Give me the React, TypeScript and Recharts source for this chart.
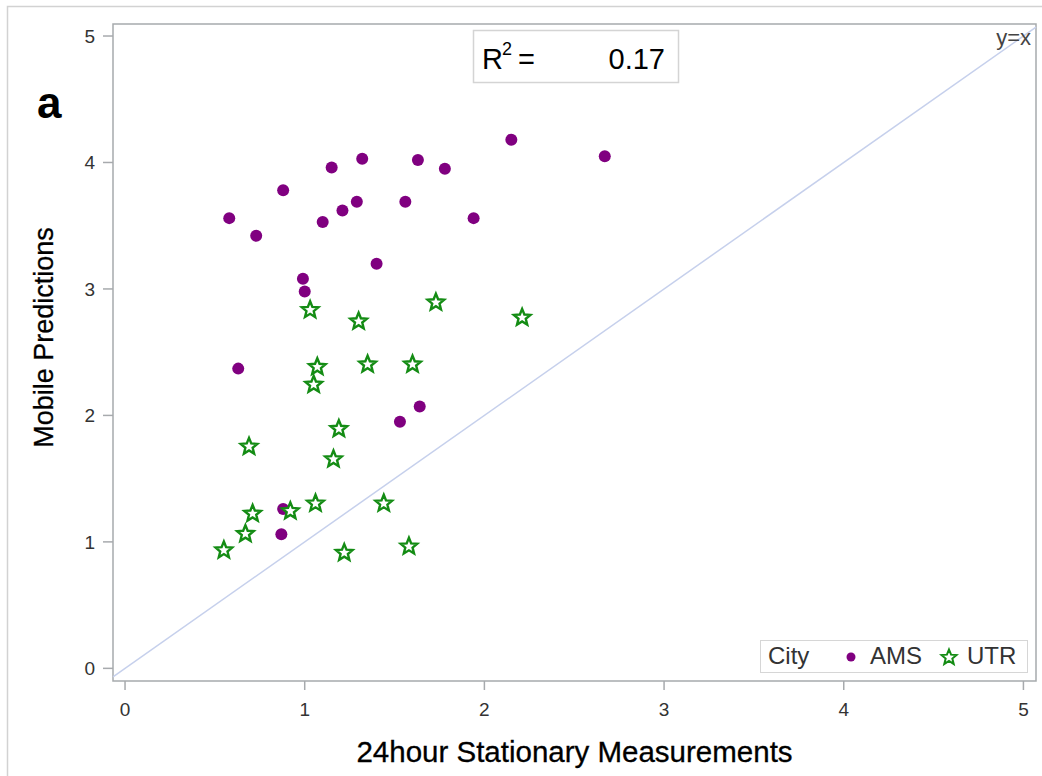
import React from 'react';
import {
  ScatterChart,
  Scatter,
  XAxis,
  YAxis,
  ReferenceLine,
  ReferenceArea,
  Legend,
} from 'recharts';

// AMS sites: stationary 24h value vs mobile prediction
const amsX = [0.58, 0.73, 0.88, 1.15, 1.32, 1.1, 1.21, 1.29, 0.99, 1.0, 1.4, 1.56, 1.63, 1.78, 1.94, 2.15, 2.67, 0.63, 1.53, 1.64, 0.88, 0.87];
const amsY = [3.56, 3.42, 3.78, 3.96, 4.03, 3.53, 3.62, 3.69, 3.08, 2.98, 3.2, 3.69, 4.02, 3.95, 3.56, 4.18, 4.05, 2.37, 1.95, 2.07, 1.26, 1.06];

// UTR sites
const utrX = [1.03, 1.3, 1.73, 2.21, 1.07, 1.35, 1.6, 1.05, 1.19, 0.69, 1.16, 0.71, 0.92, 1.06, 1.44, 0.67, 0.55, 1.22, 1.58];
const utrY = [2.84, 2.75, 2.9, 2.78, 2.39, 2.41, 2.41, 2.25, 1.9, 1.76, 1.66, 1.23, 1.25, 1.31, 1.31, 1.07, 0.94, 0.92, 0.97];

const cities = ['AMS', 'UTR'];
const xTicks = [0, 1, 2, 3, 4, 5];
const yTicks = [0, 1, 2, 3, 4, 5];
const rSquared = '0.17';

const toPoints = (xs: number[], ys: number[]) => xs.map((x, i) => ({ x, y: ys[i] }));
const amsData = toPoints(amsX, amsY);
const utrData = toPoints(utrX, utrY);

const X_DOMAIN: [number, number] = [-0.067, 5.07];
const Y_DOMAIN: [number, number] = [-0.1, 5.095];

const PURPLE = '#800080';
const GREEN = '#148c14';
const FRAME = '#a7aaad';
const FONT = "'Liberation Sans', Arial, sans-serif";

const starPath = (cx: number, cy: number, r: number, inner = 0.44) => {
  const pts: string[] = [];
  for (let i = 0; i < 10; i++) {
    const rad = i % 2 === 0 ? r : r * inner;
    const a = -Math.PI / 2 + (i * Math.PI) / 5;
    pts.push(`${(cx + rad * Math.cos(a)).toFixed(2)},${(cy + rad * Math.sin(a)).toFixed(2)}`);
  }
  return `M${pts.join('L')}Z`;
};

const DotShape = (props: any) => <circle cx={props.cx} cy={props.cy} r={6} fill={PURPLE} />;

const StarShape = (props: any) => (
  <path d={starPath(props.cx, props.cy + 0.8, 8.7)} fill='#fff' stroke={GREEN} strokeWidth={2.4} />
);

const CityLegend = () => (
  <div
    style={{
      position: 'relative',
      width: 268,
      height: 33,
      boxSizing: 'border-box',
      border: '1.5px solid #d6d6d6',
      background: '#fff',
      fontFamily: FONT,
      fontSize: 24,
      color: '#333',
    }}
  >
    <span style={{ position: 'absolute', left: 7, top: 1 }}>City</span>
    <svg width={12} height={12} style={{ position: 'absolute', left: 84, top: 10 }}>
      <circle cx={6} cy={6} r={4.5} fill={PURPLE} />
    </svg>
    <span style={{ position: 'absolute', left: 109, top: 1 }}>{cities[0]}</span>
    <svg width={20} height={20} style={{ position: 'absolute', left: 178, top: 6 }}>
      <path d={starPath(10, 10.5, 8)} fill='#fff' stroke={GREEN} strokeWidth={2} />
    </svg>
    <span style={{ position: 'absolute', left: 206, top: 1 }}>{cities[1]}</span>
  </div>
);

const tickStyle = { fontSize: 19, fill: '#333', fontFamily: FONT };

export default function App() {
  return (
    <div style={{ position: 'absolute', left: 0, top: 0, width: 1042, height: 776, background: '#fff' }}>
      <ScatterChart width={1042} height={776} margin={{ top: 24, right: 6, bottom: 0, left: 0 }}>
        <XAxis
          type='number'
          dataKey='x'
          domain={X_DOMAIN}
          ticks={xTicks}
          allowDataOverflow
          height={95}
          axisLine={false}
          tickLine={{ stroke: FRAME, strokeWidth: 1.5 }}
          tickSize={9}
          tickMargin={13}
          tick={tickStyle}
          label={{
            content: () => (
              <text
                x={574.5}
                y={762}
                textAnchor='middle'
                fontSize={29.5}
                fontFamily={FONT}
                fill='#000'
                stroke='#000'
                strokeWidth={0.3}
              >
                24hour Stationary Measurements
              </text>
            ),
          }}
        />
        <YAxis
          type='number'
          dataKey='y'
          domain={Y_DOMAIN}
          ticks={yTicks}
          allowDataOverflow
          width={113}
          axisLine={false}
          tickLine={{ stroke: FRAME, strokeWidth: 1.5 }}
          tickSize={10}
          tickMargin={8}
          tick={tickStyle}
          label={{
            content: () => (
              <text
                x={53}
                y={337.5}
                transform='rotate(-90 53 337.5)'
                textAnchor='middle'
                fontSize={27}
                fontFamily={FONT}
                fill='#000'
                stroke='#000'
                strokeWidth={0.3}
              >
                Mobile Predictions
              </text>
            ),
          }}
        />
        <ReferenceArea
          x1={X_DOMAIN[0]}
          x2={X_DOMAIN[1]}
          y1={Y_DOMAIN[0]}
          y2={Y_DOMAIN[1]}
          fill='none'
          stroke={FRAME}
          strokeWidth={1.5}
          ifOverflow='visible'
        />
        <ReferenceLine
          segment={[
            { x: X_DOMAIN[0], y: X_DOMAIN[0] },
            { x: X_DOMAIN[1], y: X_DOMAIN[1] },
          ]}
          stroke='#c6d0ec'
          strokeWidth={1.5}
          ifOverflow='visible'
        />
        <Legend
          layout='horizontal'
          verticalAlign='middle'
          align='center'
          wrapperStyle={{ left: 760, top: 640, width: 268, height: 33 }}
          content={<CityLegend />}
        />
        <Scatter name={cities[0]} data={amsData} fill={PURPLE} shape={DotShape} isAnimationActive={false} />
        <Scatter name={cities[1]} data={utrData} fill={GREEN} shape={StarShape} isAnimationActive={false} />
      </ScatterChart>

      {/* panel letter, fit statistic and identity-line tag */}
      <svg
        width={1042}
        height={776}
        style={{ position: 'absolute', left: 0, top: 0, pointerEvents: 'none' }}
        fontFamily={FONT}
      >
        <rect x={7.5} y={6.5} width={1040} height={780} fill='none' stroke='#d2d2d2' strokeWidth={1.5} />
        <text x={37} y={118} fontSize={44} fontWeight='bold' fill='#000'>
          a
        </text>
        <rect x={473.5} y={30.5} width={205} height={52} fill='#fff' stroke='#d4d4d4' strokeWidth={1.5} />
        <text x={482} y={69} fontSize={29} fill='#000'>
          R
        </text>
        <text x={502} y={55} fontSize={18} fill='#000'>
          2
        </text>
        <text x={518} y={69} fontSize={29} fill='#000'>
          =
        </text>
        <text x={665} y={69} fontSize={29} fill='#000' textAnchor='end'>
          {rSquared}
        </text>
        <text x={1031} y={45} fontSize={22} fill='#444' textAnchor='end'>
          y=x
        </text>
      </svg>
    </div>
  );
}
